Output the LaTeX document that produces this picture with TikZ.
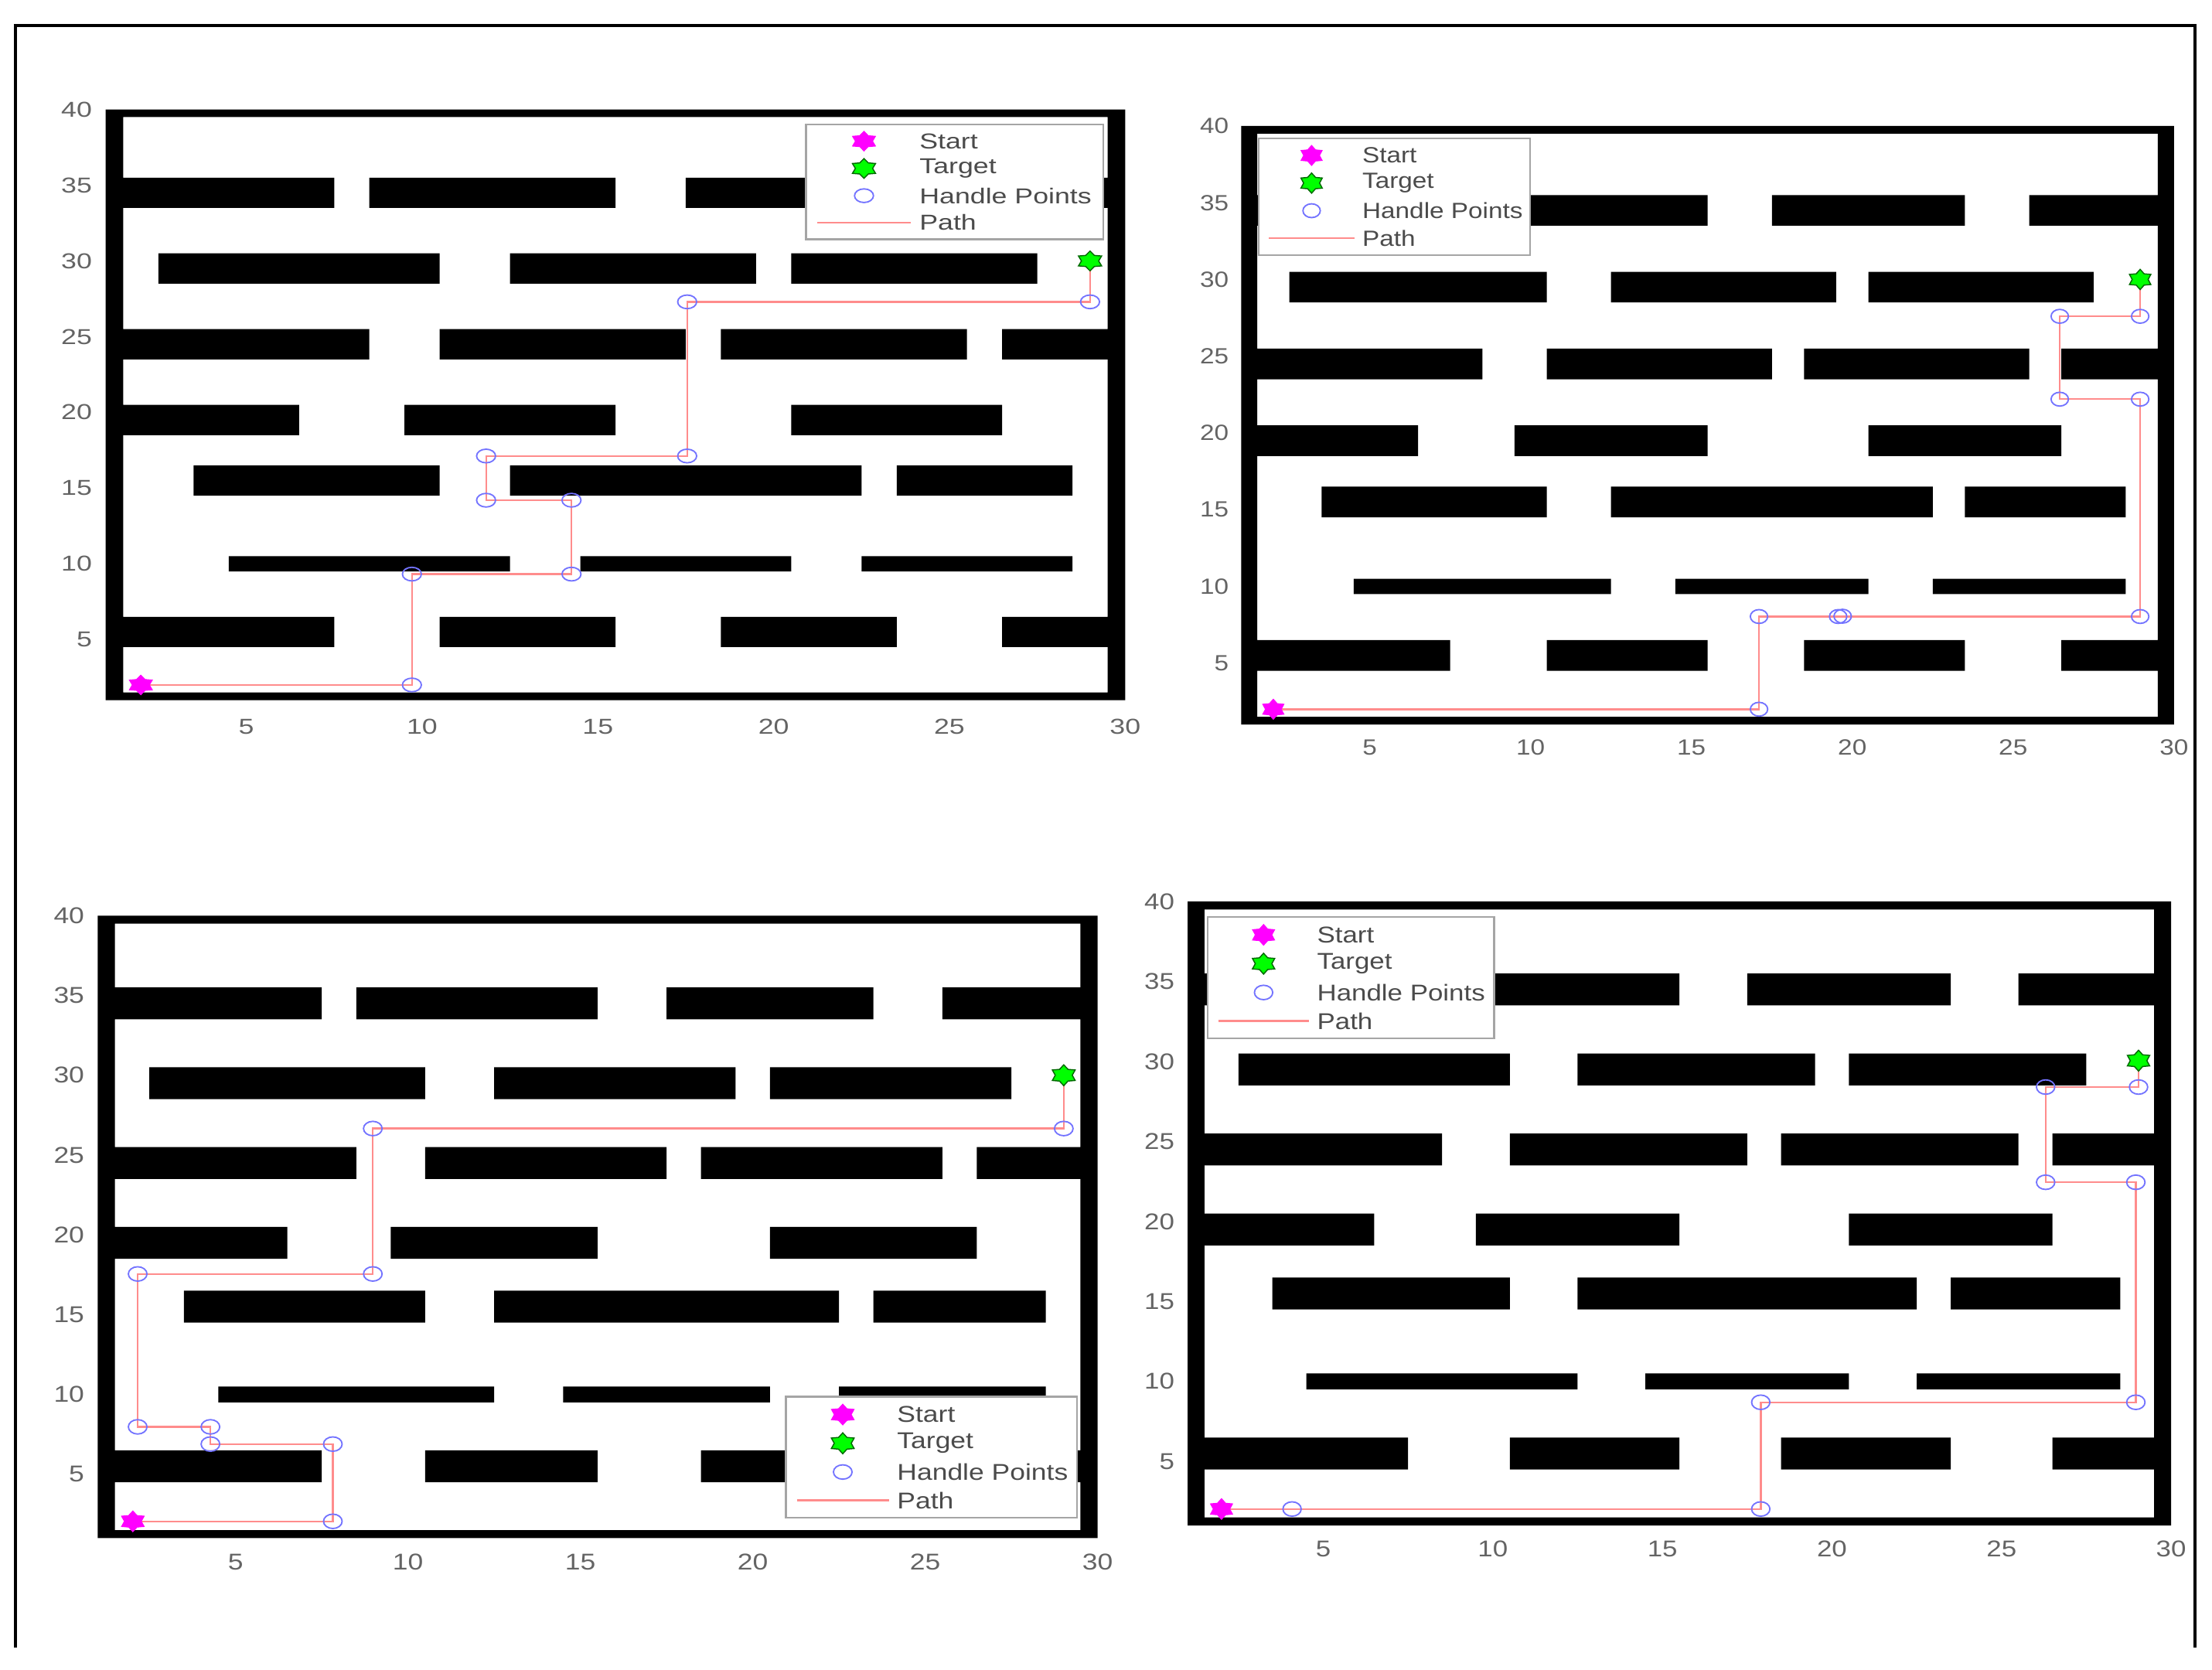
\documentclass[tikz,border=0pt]{standalone}
\usepackage{fontspec}
\setmainfont{Liberation Sans}
\usetikzlibrary{shapes.geometric}
\definecolor{pathred}{RGB}{255,140,140}
\definecolor{handleblue}{RGB}{115,115,255}
\definecolor{tickgray}{RGB}{100,100,100}
\definecolor{legtxt}{RGB}{75,75,75}
\definecolor{leggray}{RGB}{165,165,165}
\definecolor{tgtedge}{RGB}{0,105,0}
\definecolor{startmag}{RGB}{255,0,255}
\definecolor{tgtgreen}{RGB}{0,255,0}
\tikzset{
  pathline/.style={draw=pathred, line width=1.3pt},
  handle/.style={draw=handleblue, line width=1pt},
  startmk/.style={star, star points=6, star point ratio=1.55, inner sep=0pt, fill=startmag, draw=startmag, line width=0.5pt},
  targetmk/.style={star, star points=6, star point ratio=1.55, inner sep=0pt, fill=tgtgreen, draw=tgtedge, line width=0.8pt},
  ticklab/.style={text=tickgray, inner sep=0pt},
  legtext/.style={text=legtxt, anchor=west, inner sep=0pt},
  legbox/.style={fill=white, draw=leggray, line width=1.2pt},
  frameline/.style={draw=black, line width=2.2pt}
}
\newcommand{\mazeblocks}{%
  \fill[black]
   (1,1) rectangle (1.5,40) (29.5,1) rectangle (30,40)
   (1,1) rectangle (30,1.5) (1,39.5) rectangle (30,40)
   (1,33.5) rectangle (7.5,35.5) (8.5,33.5) rectangle (15.5,35.5) (17.5,33.5) rectangle (23.5,35.5) (25.5,33.5) rectangle (30,35.5)
   (2.5,28.5) rectangle (10.5,30.5) (12.5,28.5) rectangle (19.5,30.5) (20.5,28.5) rectangle (27.5,30.5)
   (1,23.5) rectangle (8.5,25.5) (10.5,23.5) rectangle (17.5,25.5) (18.5,23.5) rectangle (25.5,25.5) (26.5,23.5) rectangle (30,25.5)
   (1,18.5) rectangle (6.5,20.5) (9.5,18.5) rectangle (15.5,20.5) (20.5,18.5) rectangle (26.5,20.5)
   (3.5,14.5) rectangle (10.5,16.5) (12.5,14.5) rectangle (22.5,16.5) (23.5,14.5) rectangle (28.5,16.5)
   (4.5,9.5) rectangle (12.5,10.5) (14.5,9.5) rectangle (20.5,10.5) (22.5,9.5) rectangle (28.5,10.5)
   (1,4.5) rectangle (7.5,6.5) (10.5,4.5) rectangle (15.5,6.5) (18.5,4.5) rectangle (23.5,6.5) (26.5,4.5) rectangle (30,6.5);}
\newcommand{\mazeticks}[2]{%
  \foreach \v in {5,10,...,30} \node[ticklab, lab] (#1x\v) at (\v,#2) {\v};
  \foreach \v in {5,10,...,40} \node[ticklab, lab, anchor=east] (#1y\v) at (0.62,\v) {\v};}
\newcommand{\hmark}[1]{\draw[handle] (#1) ellipse [x radius=0.27, y radius=0.45];}
\newcommand{\mazelegend}[3]{%
  \draw[legbox] (#2,#3) rectangle ({#2+8.45},{#3-7.6});
  \node[startmk, mk] (#1ls) at ({#2+1.65},{#3-1.12}) {};
  \node[targetmk, mk] (#1lt) at ({#2+1.65},{#3-2.92}) {};
  \coordinate (#1lh) at ({#2+1.65},{#3-4.72});
  \hmark{#1lh}
  \coordinate (#1lpa) at ({#2+0.32},{#3-6.5});
  \coordinate (#1lpb) at ({#2+2.99},{#3-6.5});
  \draw[pathline] (#1lpa) -- (#1lpb);
  \node[legtext, lab] (#1t1) at ({#2+3.22},{#3-1.12}) {Start};
  \node[legtext, lab] (#1t2) at ({#2+3.22},{#3-2.92}) {Target};
  \node[legtext, lab] (#1t3) at ({#2+3.22},{#3-4.72}) {Handle Points};
  \node[legtext, lab] (#1t4) at ({#2+3.22},{#3-6.5}) {Path};}
\begin{document}
\begin{tikzpicture}[x=1pt,y=1pt]
\fill[white] (0,0) rectangle (1568,-1183.26);
\useasboundingbox (0,0) rectangle (1568,-1183.26);
\draw[frameline] (11,-1168) -- (11,-18.3) -- (1556,-18.3) -- (1556,-1168);

% ---------- panel 1 ----------
\begin{scope}[shift={(50,-507)}, x=24.92pt, y=10.734pt,
  lab/.style={font={\fontsize{15.3}{18}\selectfont}, xscale=1.28},
  mk/.style={minimum size=14pt, xscale=1.35}]
  \mazeblocks
  \mazeticks{p1}{-0.75}
  \coordinate (p1s) at (2,2);
  \coordinate (p1a) at (9.71,2);
  \coordinate (p1b) at (9.71,9.32);
  \coordinate (p1c) at (14.25,9.32);
  \coordinate (p1d) at (14.25,14.2);
  \coordinate (p1e) at (11.82,14.2);
  \coordinate (p1f) at (11.82,17.12);
  \coordinate (p1g) at (17.54,17.12);
  \coordinate (p1h) at (17.54,27.3);
  \coordinate (p1i) at (29,27.3);
  \coordinate (p1t) at (29,30);
  \draw[pathline] (p1s) -- (p1a) -- (p1b) -- (p1c) -- (p1d) -- (p1e) -- (p1f) -- (p1g) -- (p1h) -- (p1i) -- (p1t);
  \foreach \c in {p1a,p1b,p1c,p1d,p1e,p1f,p1g,p1h,p1i} {\hmark{\c}}
  \node[startmk, mk] (p1start) at (p1s) {};
  \node[targetmk, mk] (p1target) at (p1t) {};
  \mazelegend{p1}{20.92}{39.03}
\end{scope}

% ---------- panel 2 ----------
\begin{scope}[shift={(857,-524.5)}, x=22.8pt, y=10.88pt,
  lab/.style={font={\fontsize{15.6}{18}\selectfont}, xscale=1.17},
  mk/.style={minimum size=14.3pt, xscale=1.22}]
  \mazeblocks
  \mazeticks{p2}{-0.5}
  \coordinate (p2s) at (2,2);
  \coordinate (p2a) at (17.1,2);
  \coordinate (p2b) at (17.1,8.04);
  \coordinate (p2c) at (19.56,8.04);
  \coordinate (p2c2) at (19.7,8.06);
  \coordinate (p2d) at (28.95,8.04);
  \coordinate (p2e) at (28.95,22.2);
  \coordinate (p2f) at (26.45,22.2);
  \coordinate (p2g) at (26.45,27.6);
  \coordinate (p2h) at (28.95,27.6);
  \coordinate (p2t) at (28.95,30);
  \draw[pathline] (p2s) -- (p2a) -- (p2b) -- (p2c) -- (p2d) -- (p2e) -- (p2f) -- (p2g) -- (p2h) -- (p2t);
  \foreach \c in {p2a,p2b,p2c,p2c2,p2d,p2e,p2f,p2g,p2h} {\hmark{\c}}
  \node[startmk, mk] (p2start) at (p2s) {};
  \node[targetmk, mk] (p2target) at (p2t) {};
  \mazelegend{p2}{1.54}{39.2}
\end{scope}

% ---------- panel 3 ----------
\begin{scope}[shift={(44.8,-1101.6)}, x=24.44pt, y=11.314pt,
  lab/.style={font={\fontsize{16.2}{19}\selectfont}, xscale=1.2},
  mk/.style={minimum size=14.8pt, xscale=1.26}]
  \mazeblocks
  \mazeticks{p3}{-0.5}
  \coordinate (p3s) at (2.02,2.05);
  \coordinate (p3a) at (7.82,2.05);
  \coordinate (p3b) at (7.82,6.89);
  \coordinate (p3c) at (4.27,6.89);
  \coordinate (p3d) at (4.27,7.97);
  \coordinate (p3e) at (2.16,7.97);
  \coordinate (p3f) at (2.16,17.55);
  \coordinate (p3g) at (8.98,17.55);
  \coordinate (p3h) at (8.98,26.66);
  \coordinate (p3i) at (29.02,26.66);
  \coordinate (p3t) at (29.02,30);
  \draw[pathline] (p3s) -- (p3a) -- (p3b) -- (p3c) -- (p3d) -- (p3e) -- (p3f) -- (p3g) -- (p3h) -- (p3i) -- (p3t);
  \foreach \c in {p3a,p3b,p3c,p3d,p3e,p3f,p3g,p3h,p3i} {\hmark{\c}}
  \node[startmk, mk] (p3start) at (p3s) {};
  \node[targetmk, mk] (p3target) at (p3t) {};
  \mazelegend{p3}{20.96}{9.86}
\end{scope}

% ---------- panel 4 ----------
\begin{scope}[shift={(817.8,-1092.7)}, x=24.04pt, y=11.343pt,
  lab/.style={font={\fontsize{16.2}{19}\selectfont}, xscale=1.18},
  mk/.style={minimum size=14.8pt, xscale=1.23}]
  \mazeblocks
  \mazeticks{p4}{-0.47}
  \coordinate (p4s) at (2,2.03);
  \coordinate (p4a) at (4.08,2.03);
  \coordinate (p4b) at (17.9,2.03);
  \coordinate (p4c) at (17.9,8.7);
  \coordinate (p4d) at (28.96,8.7);
  \coordinate (p4e) at (28.96,22.45);
  \coordinate (p4f) at (26.3,22.45);
  \coordinate (p4g) at (26.3,28.4);
  \coordinate (p4h) at (29.04,28.4);
  \coordinate (p4t) at (29.04,30.05);
  \draw[pathline] (p4s) -- (p4a) -- (p4b) -- (p4c) -- (p4d) -- (p4e) -- (p4f) -- (p4g) -- (p4h) -- (p4t);
  \foreach \c in {p4a,p4b,p4c,p4d,p4e,p4f,p4g,p4h} {\hmark{\c}}
  \node[startmk, mk] (p4start) at (p4s) {};
  \node[targetmk, mk] (p4target) at (p4t) {};
  \mazelegend{p4}{1.59}{39.03}
\end{scope}
\end{tikzpicture}
\end{document}
